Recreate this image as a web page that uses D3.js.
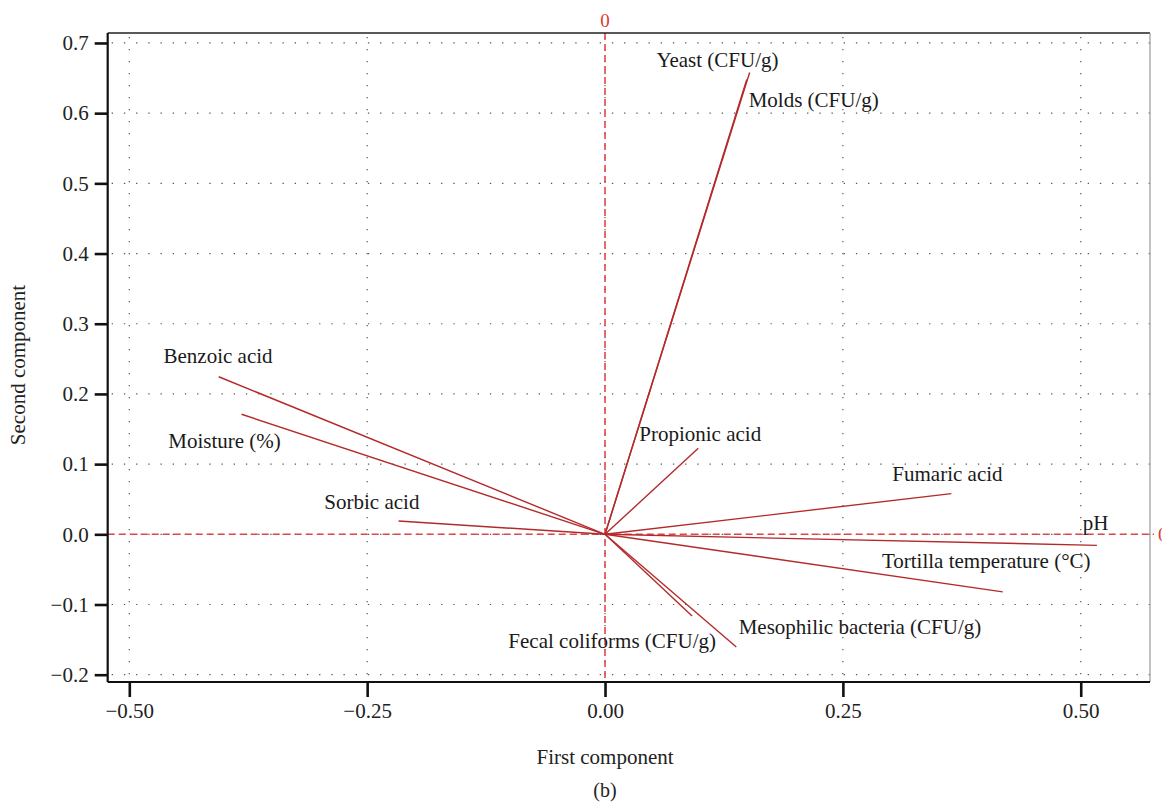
<!DOCTYPE html>
<html>
<head>
<meta charset="utf-8">
<script src="https://cdn.jsdelivr.net/npm/d3@7"></script>
<style>
  body { margin: 0; background: #fff; }
  svg { display: block; font-family: "Liberation Serif", "DejaVu Serif", serif; }
</style>
</head>
<body>
<svg width="1162" height="803"></svg>
<script>
// loadings (first component, second component)
const variables = ["Yeast (CFU/g)", "Molds (CFU/g)", "Benzoic acid", "Moisture (%)", "Sorbic acid",
  "Propionic acid", "Fumaric acid", "pH", "Tortilla temperature (°C)",
  "Mesophilic bacteria (CFU/g)", "Fecal coliforms (CFU/g)"];
const comp1 = [0.152, 0.149, -0.406, -0.382, -0.217, 0.098, 0.364, 0.517, 0.418, 0.138, 0.0915];
const comp2 = [0.658, 0.648, 0.2245, 0.171, 0.019, 0.1225, 0.058, -0.0157, -0.082, -0.1605, -0.1164];

// where each label sits, in component units
const labelX = [0.054, 0.151, -0.464, -0.459, -0.295, 0.036, 0.302, 0.502, 0.291, 0.1405, -0.1016];
const labelY = [0.666, 0.609, 0.2436, 0.1225, 0.036, 0.1333, 0.0764, 0.0061, -0.0476, -0.142, -0.1624];

const xTicks = [-0.5, -0.25, 0, 0.25, 0.5];
const yTicks = [-0.2, -0.1, 0, 0.1, 0.2, 0.3, 0.4, 0.5, 0.6, 0.7];

const svg = d3.select("svg");
const pLeft = 107.7, pRight = 1150, pTop = 33, pBottom = 682;
const serif = "Liberation Serif";

const x = d3.scaleLinear().domain([-0.5227, 0.5728]).range([pLeft, pRight]);
const y = d3.scaleLinear().domain([-0.2104, 0.7142]).range([pBottom, pTop]);

// dotted grid
svg.append("g")
  .selectAll("line")
  .data(yTicks)
  .enter()
  .append("line")
  .attr("x1", pLeft + 4).attr("x2", pRight)
  .attr("y1", d => y(d)).attr("y2", d => y(d))
  .attr("stroke", "#555")
  .attr("stroke-width", 1.2)
  .attr("stroke-dasharray", "1.3,10.9");

svg.append("g")
  .selectAll("line")
  .data(xTicks)
  .enter()
  .append("line")
  .attr("x1", d => x(d)).attr("x2", d => x(d))
  .attr("y1", pTop + 4).attr("y2", pBottom)
  .attr("stroke", "#555")
  .attr("stroke-width", 1.2)
  .attr("stroke-dasharray", "1.3,10.7");

// red zero lines
const red = "#e0474c";
svg.append("line")
  .attr("x1", x(0)).attr("x2", x(0))
  .attr("y1", pTop).attr("y2", pBottom)
  .attr("stroke", red).attr("stroke-width", 1.6)
  .attr("stroke-dasharray", "7,4");
svg.append("line")
  .attr("x1", pLeft).attr("x2", pRight + 4)
  .attr("y1", y(0)).attr("y2", y(0))
  .attr("stroke", red).attr("stroke-width", 1.6)
  .attr("stroke-dasharray", "7,4");

svg.append("text")
  .attr("x", x(0)).attr("y", 27)
  .attr("text-anchor", "middle")
  .attr("font-size", "19px")
  .attr("fill", "#d83a3a")
  .text("0");
svg.append("text")
  .attr("x", pRight + 8).attr("y", y(0) + 7)
  .attr("font-size", "19px")
  .attr("fill", "#d83a3a")
  .text("0");

// loading vectors
const idx = d3.range(variables.length);
svg.append("g")
  .selectAll("line")
  .data(idx)
  .enter()
  .append("line")
  .attr("x1", x(0)).attr("y1", y(0))
  .attr("x2", i => x(comp1[i]))
  .attr("y2", i => y(comp2[i]))
  .attr("stroke", "#b42a2a")
  .attr("stroke-width", 1.4);

svg.append("g")
  .selectAll("text")
  .data(idx)
  .enter()
  .append("text")
  .attr("x", i => x(labelX[i]))
  .attr("y", i => y(labelY[i]))
  .attr("font-size", "21px")
  .attr("fill", "#1a1a1a")
  .text(i => variables[i]);

// frame
svg.append("line")
  .attr("x1", pLeft).attr("x2", pRight)
  .attr("y1", pTop).attr("y2", pTop)
  .attr("stroke", "#222").attr("stroke-width", 1.6);
svg.append("line")
  .attr("x1", pRight).attr("x2", pRight)
  .attr("y1", pTop).attr("y2", pBottom)
  .attr("stroke", "#999").attr("stroke-width", 1.2);

// axes
const yAxis = svg.append("g")
  .attr("transform", `translate(${pLeft},0)`)
  .call(d3.axisLeft(y).tickValues(yTicks).tickFormat(d3.format(".1f")).tickSize(13).tickPadding(6));
const xAxis = svg.append("g")
  .attr("transform", `translate(0,${pBottom})`)
  .call(d3.axisBottom(x).tickValues(xTicks).tickFormat(d3.format(".2f")).tickSize(15).tickPadding(6));

[yAxis, xAxis].forEach(ax => {
  ax.attr("font-family", serif).attr("font-size", 21);
  ax.select(".domain").attr("stroke", "#111").attr("stroke-width", 2.2);
  ax.selectAll(".tick line").attr("stroke", "#111").attr("stroke-width", 2.6);
  ax.selectAll(".tick text").attr("fill", "#222");
});
yAxis.select(".domain").attr("d", `M0,${pTop}V${pBottom}`);
xAxis.select(".domain").attr("d", `M${pLeft},0H${pRight}`);

// axis titles
svg.append("text")
  .attr("x", x(0)).attr("y", 764)
  .attr("text-anchor", "middle")
  .attr("font-size", "21px")
  .attr("fill", "#222")
  .text("First component");

svg.append("text")
  .attr("transform", "translate(25,365) rotate(-90)")
  .attr("text-anchor", "middle")
  .attr("font-size", "21px")
  .attr("fill", "#222")
  .text("Second component");

svg.append("text")
  .attr("x", x(0)).attr("y", 797)
  .attr("text-anchor", "middle")
  .attr("font-size", "20px")
  .attr("fill", "#222")
  .text("(b)");
</script>
</body>
</html>
